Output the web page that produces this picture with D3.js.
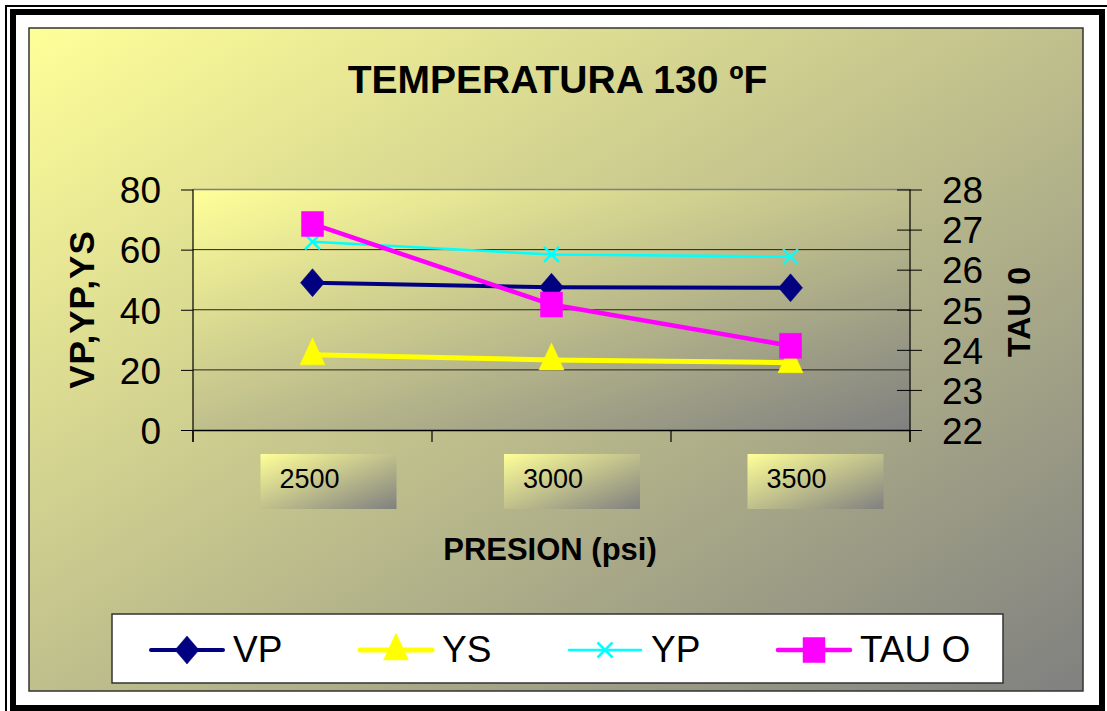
<!DOCTYPE html>
<html>
<head>
<meta charset="utf-8">
<script src="https://cdn.jsdelivr.net/npm/d3@7"></script>
<style>
  html, body { margin: 0; padding: 0; background: #fff; }
  svg { display: block; }
  text { font-family: Arial, "Liberation Sans", sans-serif; fill: #000; }
</style>
</head>
<body>
<svg id="chart" width="1107" height="711"></svg>
<script>
const categories = ["2500", "3000", "3500"];
const vpValues  = [49, 47.5, 47.3];
const ysValues  = [25, 23.3, 22.4];
const ypValues  = [62.6, 58.4, 57.7];
const tauValues = [27.14, 25.13, 24.1];
const leftTicks  = [0, 20, 40, 60, 80];
const rightTicks = [22, 23, 24, 25, 26, 27, 28];
const seriesNames = ["VP", "YS", "YP", "TAU O"];
const titleText = "TEMPERATURA 130 ºF";
const xTitle = "PRESION (psi)";
const yLeftTitle = "VP,YP,YS";
const yRightTitle = "TAU 0";

const svg = d3.select("#chart");
const W = 1107, H = 711;

// gradients
const defs = svg.append("defs");
function grad(id) {
  const g = defs.append("linearGradient").attr("id", id)
    .attr("x1", "0").attr("y1", "0").attr("x2", "1").attr("y2", "1");
  g.append("stop").attr("offset", "0%").attr("stop-color", "#FFFF99");
  g.append("stop").attr("offset", "100%").attr("stop-color", "#808080");
}
grad("gChart"); grad("gPlot"); grad("gBox");

// outer frame
svg.append("rect").attr("x", 6).attr("y", 6).attr("width", W + 4).attr("height", H + 4)
  .attr("fill", "none").attr("stroke", "#000").attr("stroke-width", 2);
svg.append("rect").attr("x", 13).attr("y", 12).attr("width", 1089).attr("height", 696)
  .attr("fill", "none").attr("stroke", "#000").attr("stroke-width", 6);

// chart area
svg.append("rect").attr("x", 29).attr("y", 28).attr("width", 1054).attr("height", 663)
  .attr("fill", "url(#gChart)").attr("stroke", "#333").attr("stroke-width", 1.5);

const plot = { l: 193, r: 910, t: 189.5, b: 430 };
const x = d3.scaleBand().domain(categories).range([plot.l, plot.r]);
const yL = d3.scaleLinear().domain([0, 80]).range([plot.b, plot.t]);
const yR = d3.scaleLinear().domain([22, 28]).range([plot.b, plot.t]);

// plot area
svg.append("rect").attr("x", plot.l).attr("y", plot.t)
  .attr("width", plot.r - plot.l).attr("height", plot.b - plot.t)
  .attr("fill", "url(#gPlot)");
svg.append("line").attr("x1", plot.l).attr("x2", plot.r).attr("y1", plot.t).attr("y2", plot.t)
  .attr("stroke", "#808080").attr("stroke-width", 1.5);

// gridlines
svg.append("g").selectAll("line").data(leftTicks.filter(d => d > 0 && d < 80)).join("line")
  .attr("x1", plot.l).attr("x2", plot.r)
  .attr("y1", d => yL(d)).attr("y2", d => yL(d))
  .attr("stroke", "#222").attr("stroke-width", 1);

// left axis
const gL = svg.append("g").attr("transform", `translate(${plot.l},0)`)
  .call(d3.axisLeft(yL).tickValues(leftTicks).tickFormat(d3.format("d")).tickSize(12).tickPadding(20));
gL.select(".domain").remove();
gL.selectAll(".tick line").attr("stroke", "#000");
gL.selectAll(".tick text").attr("font-size", 37).attr("font-family", "Arial, 'Liberation Sans', sans-serif").attr("dy", "0.36em");
svg.append("line").attr("x1", plot.l).attr("x2", plot.l).attr("y1", plot.t).attr("y2", plot.b + 12)
  .attr("stroke", "#000").attr("stroke-width", 1.2);

// right axis
const gR = svg.append("g").attr("transform", `translate(${plot.r},0)`)
  .call(d3.axisRight(yR).tickValues(rightTicks).tickFormat(d3.format("d")).tickSize(12).tickPadding(20));
gR.select(".domain").remove();
gR.selectAll(".tick line").attr("stroke", "#000").attr("x1", -13);
gR.selectAll(".tick text").attr("font-size", 37).attr("font-family", "Arial, 'Liberation Sans', sans-serif").attr("dy", "0.36em");
svg.append("line").attr("x1", plot.r).attr("x2", plot.r).attr("y1", plot.t).attr("y2", plot.b + 12)
  .attr("stroke", "#000").attr("stroke-width", 1.2);

// x axis
const gX = svg.append("g").attr("transform", `translate(0,${plot.b})`)
  .call(d3.axisBottom(x).tickSize(0).tickFormat(""));
gX.select(".domain").attr("stroke", "#000").attr("stroke-width", 1.5);
const bounds = categories.map(c => x(c)).concat([plot.r]);
svg.append("g").selectAll("line").data(bounds).join("line")
  .attr("x1", d => d).attr("x2", d => d).attr("y1", plot.b).attr("y2", plot.b + 12)
  .attr("stroke", "#000").attr("stroke-width", 1.2);

// category boxes
const boxes = svg.append("g").selectAll("g").data(categories).join("g")
  .attr("transform", (c, i) => `translate(${x(c) + x.bandwidth() / 2 - 52 + i * 4.5},454)`);
boxes.append("rect").attr("width", 136).attr("height", 55).attr("fill", "url(#gBox)");
boxes.append("text").attr("x", 19).attr("y", 34).attr("font-size", 27).text(c => c);

// titles
svg.append("text").attr("x", 557.5).attr("y", 93).attr("text-anchor", "middle")
  .attr("font-size", 39).attr("font-weight", "bold").text(titleText);
svg.append("text").attr("x", 550).attr("y", 560).attr("text-anchor", "middle")
  .attr("font-size", 31).attr("font-weight", "bold").text(xTitle);
svg.append("text").attr("transform", "translate(94,309.5) rotate(-90)").attr("text-anchor", "middle")
  .attr("font-size", 35).attr("font-weight", "bold").attr("letter-spacing", 1).text(yLeftTitle);
svg.append("text").attr("transform", "translate(1030,312) rotate(-90)").attr("text-anchor", "middle")
  .attr("font-size", 32).attr("font-weight", "bold").text(yRightTitle);

// marker shapes
function diamond(cx, cy) { return `M${cx},${cy-14}L${cx+12},${cy}L${cx},${cy+14}L${cx-12},${cy}Z`; }
function triangle(cx, cy) { return `M${cx},${cy-17}L${cx+12.5},${cy+10}L${cx-12.5},${cy+10}Z`; }
function square(cx, cy) { return `M${cx-11},${cy-12.5}h22v25h-22Z`; }
function cross(cx, cy) { return `M${cx-7.5},${cy-7.5}L${cx+7.5},${cy+7.5}M${cx+7.5},${cy-7.5}L${cx-7.5},${cy+7.5}`; }

const series = [
  { name: seriesNames[0], values: vpValues,  scale: yL, color: "#000080", width: 4,   marker: diamond,  fill: true },
  { name: seriesNames[1], values: ysValues,  scale: yL, color: "#FFFF00", width: 5,   marker: triangle, fill: true },
  { name: seriesNames[2], values: ypValues,  scale: yL, color: "#00FFFF", width: 2.5, marker: cross,    fill: false },
  { name: seriesNames[3], values: tauValues, scale: yR, color: "#FF00FF", width: 4.5, marker: square,   fill: true }
];

const cx = c => x(c) + x.bandwidth() / 2;
series.forEach(s => {
  const pts = categories.map((c, i) => [cx(c), s.scale(s.values[i])]);
  svg.append("path").attr("d", d3.line()(pts)).attr("fill", "none")
    .attr("stroke", s.color).attr("stroke-width", s.width).attr("stroke-linejoin", "round");
  svg.append("g").selectAll("path").data(pts).join("path")
    .attr("d", p => s.marker(p[0], p[1]))
    .attr("fill", s.fill ? s.color : "none")
    .attr("stroke", s.color).attr("stroke-width", s.fill ? 0.5 : 2.5);
});

// legend
svg.append("rect").attr("x", 112).attr("y", 614).attr("width", 891).attr("height", 69)
  .attr("fill", "#fff").attr("stroke", "#333").attr("stroke-width", 1.5);
const lg = svg.append("g").selectAll("g").data(series).join("g")
  .attr("transform", (d, i) => `translate(${151 + i * 209},650)`);
lg.append("line").attr("x1", 0).attr("x2", 72).attr("y1", 0).attr("y2", 0)
  .attr("stroke", d => d.color).attr("stroke-width", d => d.width).attr("stroke-linecap", "round");
lg.append("path").attr("d", d => d.marker(36, 0))
  .attr("fill", d => d.fill ? d.color : "none")
  .attr("stroke", d => d.color).attr("stroke-width", d => d.fill ? 0.5 : 2.5);
lg.append("text").attr("x", 82).attr("y", 12).attr("font-size", 37).text(d => d.name);
</script>
</body>
</html>
